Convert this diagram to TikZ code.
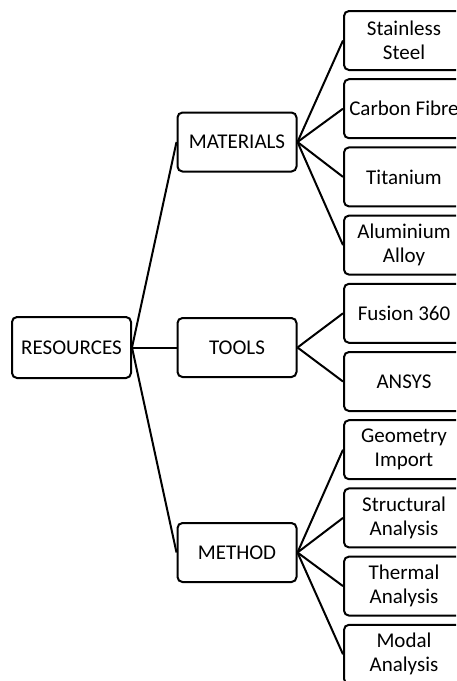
\documentclass[tikz,border=0pt]{standalone}
\usepackage{fontspec}
\setmainfont{Carlito}
\begin{document}
\begin{tikzpicture}[x=1pt,y=-1pt,
  box/.style={draw, line width=2pt, rounded corners=5pt, minimum width=119pt, minimum height=59pt, align=center, font=\fontsize{21}{24}\selectfont, inner sep=0pt},
  conn/.style={line width=2pt}]
\useasboundingbox (0,0) rectangle (456,681);
\clip (0,0) rectangle (456,681);
\node[box, minimum height=61pt] (res) at (71.5,347.5) {RESOURCES};
\node[box] (mat) at (237,142) {MATERIALS};
\node[box] (tools) at (237,347.5) {TOOLS};
\node[box] (meth) at (237,552.5) {METHOD};
\node[box, minimum width=120pt] (ss) at (404,40.5) {Stainless\\Steel};
\node[box, minimum width=120pt] (cf) at (404,108.7) {Carbon Fibre};
\node[box, minimum width=120pt] (ti) at (404,176.9) {Titanium};
\node[box, minimum width=120pt] (al) at (404,245.1) {Aluminium\\Alloy};
\node[box, minimum width=120pt] (fu) at (404,313.3) {Fusion 360};
\node[box, minimum width=120pt] (an) at (404,381.5) {ANSYS};
\node[box, minimum width=120pt] (gi) at (404,449.7) {Geometry\\Import};
\node[box, minimum width=120pt] (sa) at (404,517.9) {Structural\\Analysis};
\node[box, minimum width=120pt] (ta) at (404,586.1) {Thermal\\Analysis};
\node[box, minimum width=120pt] (ma) at (404,654.3) {Modal\\Analysis};
\draw[conn] (res.east) -- (mat.west);
\draw[conn] (res.east) -- (tools.west);
\draw[conn] (res.east) -- (meth.west);
\foreach \c in {ss,cf,ti,al} \draw[conn] (mat.east) -- (\c.west);
\foreach \c in {fu,an} \draw[conn] (tools.east) -- (\c.west);
\foreach \c in {gi,sa,ta,ma} \draw[conn] (meth.east) -- (\c.west);
\end{tikzpicture}
\end{document}
